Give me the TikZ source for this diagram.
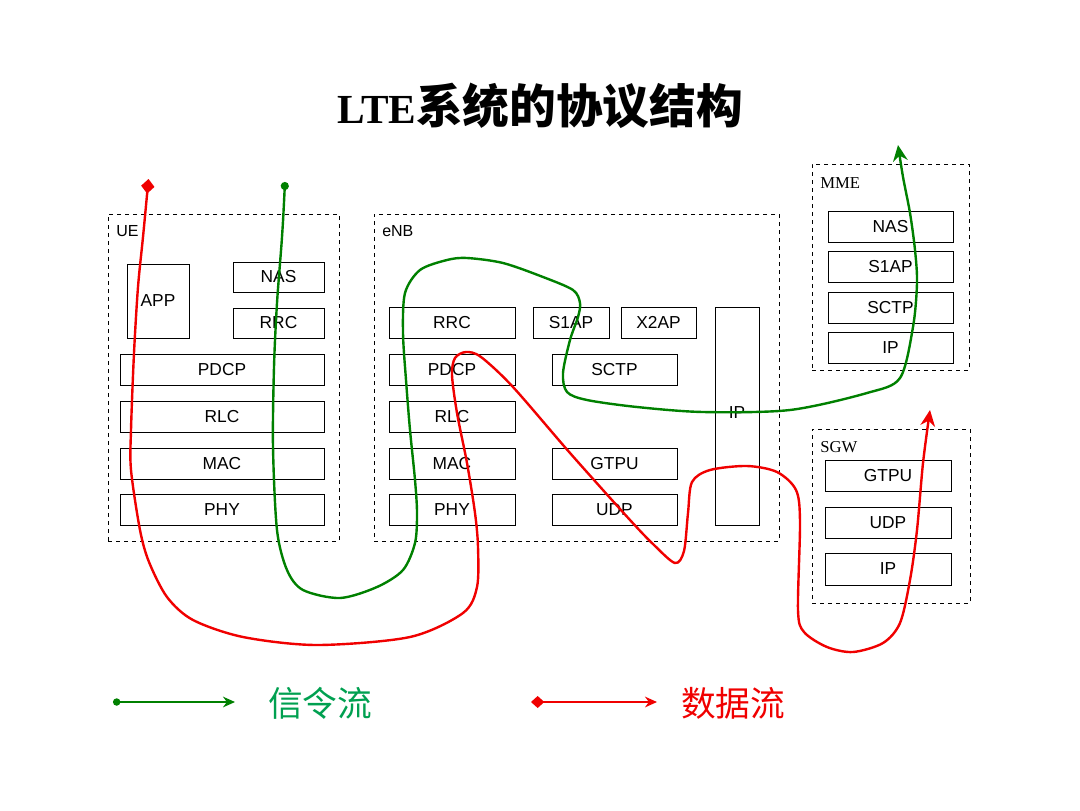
\documentclass[tikz,border=0pt]{standalone}
\usepackage{fontspec}
\setmainfont{Liberation Serif}
\setsansfont{Liberation Sans}
\newfontfamily\cjk{Noto Sans CJK SC}
\usetikzlibrary{arrows.meta}

\definecolor{sigGreen}{RGB}{0,128,0}
\definecolor{sigText}{RGB}{0,160,80}
\definecolor{dataRed}{RGB}{240,0,0}

\tikzset{
  layer/.style 2 args={draw=black, line width=0.75pt, inner sep=0pt,
    minimum width=#1*0.75pt, minimum height=#2*0.75pt,
    font=\sffamily\fontsize{13}{15}\selectfont},
  group/.style 2 args={draw=black, dashed, line width=0.6pt, inner sep=0pt,
    minimum width=#1*0.75pt, minimum height=#2*0.75pt},
  grouplabel/.style={anchor=west, inner sep=0pt},
  sigflow/.style={draw=sigGreen, line width=1.8pt, line cap=round,
    {Circle[length=6pt]}-{Stealth[length=12pt,width=11pt]}},
  dataflow/.style={draw=dataRed, line width=1.8pt, line cap=round,
    {Diamond[length=11pt,width=10pt]}-{Stealth[length=12pt,width=11pt]}},
  legendsig/.style={draw=sigGreen, line width=1.4pt,
    {Circle[length=5.5pt]}-{Stealth[length=9pt,width=8pt]}},
  legenddata/.style={draw=dataRed, line width=1.4pt,
    {Diamond[length=10pt,width=9pt]}-{Stealth[length=9pt,width=8pt]}},
}

\begin{document}
\begin{tikzpicture}[x=0.75pt, y=-0.75pt]
\useasboundingbox (0,0) rectangle (1080,810);

% title
\node (title) at (540,106) {{\fontsize{31}{34}\selectfont\bfseries LTE}{\cjk\bfseries\fontsize{35}{40}\selectfont 系统的协议结构}};

% ---------------- UE ----------------
\node[group={231}{327}] (ue) at (223.5,377.5) {};
\node[grouplabel, font=\sffamily\fontsize{12}{14}\selectfont] (uelbl) at (116,231) {UE};
\node[layer={62}{74}] (ueapp) at (158,301) {APP};
\node[layer={91}{30}] (uenas) at (278.5,277) {NAS};
\node[layer={91}{30}] (uerrc) at (278.5,323) {RRC};
\node[layer={204}{31}] (uepdcp) at (222,369.5) {PDCP};
\node[layer={204}{31}] (uerlc) at (222,416.5) {RLC};
\node[layer={204}{31}] (uemac) at (222,463.5) {MAC};
\node[layer={204}{31}] (uephy) at (222,509.5) {PHY};

% ---------------- eNB ----------------
\node[group={405}{327}] (enb) at (576.5,377.5) {};
\node[grouplabel, font=\sffamily\fontsize{12}{14}\selectfont] (enblbl) at (382,231) {eNB};
\node[layer={126}{31}] (enbrrc) at (452,322.5) {RRC};
\node[layer={76}{31}] (enbsiap) at (571,322.5) {S1AP};
\node[layer={75}{31}] (enbxiap) at (658.5,322.5) {X2AP};
\node[layer={126}{31}] (enbpdcp) at (452,369.5) {PDCP};
\node[layer={125}{31}] (enbsctp) at (614.5,369.5) {SCTP};
\node[layer={126}{31}] (enbrlc) at (452,416.5) {RLC};
\node[layer={126}{31}] (enbmac) at (452,463.5) {MAC};
\node[layer={125}{31}] (enbgtpu) at (614.5,463.5) {GTPU};
\node[layer={126}{31}] (enbphy) at (452,509.5) {PHY};
\node[layer={125}{31}] (enbudp) at (614.5,509.5) {UDP};
\node[layer={44}{218}] (enbip) at (737,416) {};
\node[font=\sffamily\fontsize{13}{15}\selectfont] (enbiplbl) at (737,413) {IP};

% ---------------- MME ----------------
\node[group={157}{206}] (mme) at (890.5,267) {};
\node[grouplabel, font=\fontsize{12.5}{14}\selectfont] (mmelbl) at (820,183) {MME};
\node[layer={125}{31}] (mmenas) at (890.5,226.5) {NAS};
\node[layer={125}{31}] (mmesiap) at (890.5,266.5) {S1AP};
\node[layer={125}{31}] (mmesctp) at (890.5,307.5) {SCTP};
\node[layer={125}{31}] (mmeip) at (890.5,347.5) {IP};

% ---------------- SGW ----------------
\node[group={158}{174}] (sgw) at (891,516) {};
\node[grouplabel, font=\fontsize{12.5}{14}\selectfont] (sgwlbl) at (820,447) {SGW};
\node[layer={126}{31}] (sgwgtpu) at (888,475.5) {GTPU};
\node[layer={126}{31}] (sgwudp) at (888,522.5) {UDP};
\node[layer={126}{32}] (sgwip) at (888,569) {IP};

% ---------------- signalling flow (UE -> MME) ----------------
\coordinate (sigstart) at (285,182);
\coordinate (sigend) at (898,145);
\draw[sigflow] plot[smooth, tension=0.5] coordinates {
  (sigstart) (282,237) (277,303) (274,367) (273,447) (277,530) (287,570)
  (303,590) (340,598) (377,587) (403,570) (415,543) (417,513) (415,480)
  (410,430) (406,380) (403,333) (405,293) (420,270) (447,260) (467,258)
  (503,263) (543,277) (573,290) (580,303) (578,317) (570,340) (563,373)
  (567,392) (587,400) (637,407) (703,412) (790,410) (867,393) (900,378)
  (913,327) (917,283) (915,250) (910,213) (903,177) (sigend)};

% ---------------- data flow (UE -> SGW) ----------------
\coordinate (datastart) at (148.5,179);
\coordinate (dataend) at (930,410);
\draw[dataflow] plot[smooth, tension=0.5] coordinates {
  (datastart) (143,237) (138,287) (134,353) (131,430) (131,470) (140,530)
  (149,562) (167,597) (193,620) (243,637) (317,645) (410,637) (463,613)
  (477,587) (478,547) (475,513) (467,463) (457,413) (452,375) (455,358)
  (466,352) (481,357) (513,387) (570,453) (630,520) (654,545) (675,563)
  (684,551) (688,513) (692,482) (710,470) (747,466) (777,472) (796,490)
  (800,522) (798,610) (804,632) (827,647) (853,652) (883,643) (900,623)
  (910,580) (917,530) (923,463) (dataend)};

% ---------------- legend ----------------
\coordinate (lgsa) at (113,702);
\coordinate (lgsb) at (235,702);
\draw[legendsig] (lgsa) -- (lgsb);
\node[text=sigText, font=\cjk\fontsize{26}{30}\selectfont] (lgstext) at (320,703) {信令流};
\coordinate (lgda) at (531,702);
\coordinate (lgdb) at (657,702);
\draw[legenddata] (lgda) -- (lgdb);
\node[text=dataRed, font=\cjk\fontsize{26}{30}\selectfont] (lgdtext) at (733,703) {数据流};
\end{tikzpicture}
\end{document}
